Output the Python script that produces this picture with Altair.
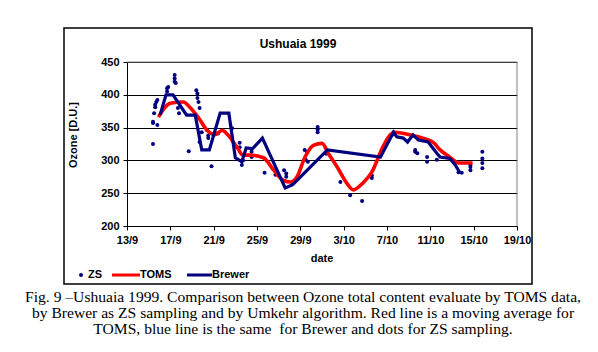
import altair as alt
import pandas as pd
from datetime import datetime, timedelta

# ---- data (days after 13 Sep 1999, ozone in D.U.) ----
zs_day = [2.4, 2.4, 2.4, 2.5, 2.6, 2.6, 2.7, 2.8, 2.8,
          3.7, 3.7, 3.8, 4.4, 4.4, 4.4, 4.5, 4.7, 4.8,
          5.7, 6.4, 6.5, 6.5, 6.6, 6.7, 6.7, 6.9,
          7.4, 7.5, 7.5, 7.8, 8.4, 9.7,
          10.4, 10.4, 10.6, 10.7, 11.5, 11.5, 12.7, 13.7,
          14.5, 14.7, 14.7, 15.3, 16.4, 16.5, 16.6, 16.7,
          17.6, 17.6, 17.6, 18.4, 19.7, 20.6, 21.7, 22.6, 22.6,
          24.6, 24.6, 26.6, 26.6, 26.8, 27.7, 27.7, 28.6,
          30.6, 30.9, 31.7, 31.7, 31.7, 32.8, 32.8, 32.8, 32.8]
zs_val = [325, 357, 359, 372, 381, 385, 389, 354, 392,
          405, 410, 412, 420, 425, 430, 418, 380, 372,
          314, 407, 402, 395, 389, 380, 328, 343,
          346, 334, 338, 291, 341, 349,
          320, 327, 293, 300, 313, 305, 281, 278,
          285, 275, 280, 266, 316, 301, 313, 298,
          351, 347, 343, 310, 267, 247, 238, 273, 277,
          343, 340, 313, 316, 311, 298, 305, 301,
          282, 281, 285, 290, 293, 288, 296, 303, 313]

toms_day = [2.9, 4.0, 5.2, 5.8, 6.6, 7.4, 8.1, 8.8, 9.3, 10.2, 10.7, 11.4,
            12.6, 13.5, 14.4, 15.1, 15.7, 16.4, 17.2, 18.0, 18.6, 19.4,
            20.3, 20.9, 21.8, 22.6, 23.6, 24.3, 24.7, 26.1, 27.3, 28.3,
            28.9, 29.8, 30.6, 31.9]
toms_val = [366, 387, 389, 381, 365, 346, 339, 346, 339, 319, 308, 308,
            304, 286, 270, 267, 275, 304, 323, 326, 310, 290,
            265, 255, 266, 282, 320, 339, 343, 339, 334, 327,
            316, 305, 296, 296]

brewer_day = [3.05, 3.6, 4.25, 5.5, 6.3, 6.9, 7.6, 8.6, 9.4, 10.0, 10.6,
              11.0, 11.6, 12.5, 14.6, 15.3, 18.5, 23.4, 24.6, 24.9, 25.5,
              25.9, 26.4, 26.9, 27.8, 28.6, 28.9, 29.8, 30.3, 30.7]
brewer_val = [369, 400, 400, 369, 369, 316, 316, 372, 372, 304, 298,
              319, 318, 334, 258, 263, 316, 305, 343, 336, 334,
              328, 339, 331, 328, 311, 305, 303, 293, 282]

y_ticks = [200, 250, 300, 350, 400, 450]
x_tick_days = [0, 4, 8, 12, 16, 20, 24, 28, 32, 36]

title_text = "Ushuaia 1999"
y_title = "Ozone [D.U.]"
x_title = "date"
caption = [
    "Fig. 9 \u2013Ushuaia 1999. Comparison between Ozone total content evaluate by TOMS data,",
    "by Brewer as ZS sampling and by Umkehr algorithm. Red line is a moving average for",
    "TOMS, blue line is the same\u00a0 for Brewer and dots for ZS sampling.",
]

BASE = datetime(1999, 9, 13)


def to_iso(d):
    return (BASE + timedelta(days=d)).strftime("%Y-%m-%dT%H:%M:%S")


def to_dt(d):
    t = BASE + timedelta(days=d)
    return alt.DateTime(year=t.year, month=t.month, date=t.day)


zs_df = pd.DataFrame({"date": [to_iso(d) for d in zs_day], "ozone": zs_val})
toms_df = pd.DataFrame({"date": [to_iso(d) for d in toms_day], "ozone": toms_val})
brewer_df = pd.DataFrame({"date": [to_iso(d) for d in brewer_day], "ozone": brewer_val})
dummy = pd.DataFrame({"k": [0]})

NAVY = "#000080"
RED = "#ff0000"
FONT = "Liberation Sans"

x_enc = alt.X(
    "date:T",
    scale=alt.Scale(domain=[to_dt(0), to_dt(36)]),
    axis=alt.Axis(values=[to_dt(d) for d in x_tick_days], format="%-d/%-m",
                  grid=False, title=None, labelAngle=0, tickSize=4,
                  labelPadding=4, labelFontSize=11, labelFontWeight="bold",
                  labelFont=FONT, labelColor="black", domainColor="black",
                  tickColor="black", labelFlush=False),
)
y_enc = alt.Y(
    "ozone:Q",
    scale=alt.Scale(domain=[200, 450], nice=False, zero=False),
    axis=alt.Axis(values=y_ticks, grid=True, gridColor="black", gridWidth=1,
                  gridOpacity=1, title=None, tickSize=4, labelPadding=4,
                  labelFontSize=11, labelFontWeight="bold", labelFont=FONT,
                  labelColor="black", domainColor="black", tickColor="black"),
)

frame = alt.Chart(dummy).mark_rule(color="#808080", strokeWidth=1).encode(
    x=alt.value(0), x2=alt.value(390), y=alt.value(0)
)
frame_r = alt.Chart(dummy).mark_rule(color="#808080", strokeWidth=1).encode(
    x=alt.value(390), y=alt.value(0), y2=alt.value(164)
)

points = alt.Chart(zs_df).mark_circle(size=16, color=NAVY, opacity=1).encode(x=x_enc, y=y_enc)
toms = alt.Chart(toms_df).mark_line(color=RED, strokeWidth=3.6, interpolate="monotone").encode(x=x_enc, y=y_enc)
brewer = alt.Chart(brewer_df).mark_line(color=NAVY, strokeWidth=3.2).encode(x=x_enc, y=y_enc)

# outer chart-area border (Excel style)
border = alt.Chart(dummy).mark_rect(fill=None, stroke="black", strokeWidth=1.5).encode(
    x=alt.value(-63), x2=alt.value(405), y=alt.value(-34), y2=alt.value(222)
)


def label(text, x, y, size=11, weight="bold", align="center", angle=0, font=FONT):
    kw = dict(text=text, fontSize=size, fontWeight=weight, font=font,
              align=align, baseline="middle", color="black")
    if angle:
        kw["angle"] = angle
    return alt.Chart(dummy).mark_text(**kw).encode(x=alt.value(x), y=alt.value(y))


title = label(title_text, 171, -18, size=12)
ytitle = label(y_title, -53, 73, angle=270)
xtitle = label(x_title, 195, 197)

leg_dot = alt.Chart(dummy).mark_circle(size=16, color=NAVY, opacity=1).encode(
    x=alt.value(-46), y=alt.value(213))
leg_zs = label("ZS", -39, 213, align="left")
leg_red = alt.Chart(dummy).mark_rule(color=RED, strokeWidth=3).encode(
    x=alt.value(-15), x2=alt.value(13), y=alt.value(213))
leg_toms = label("TOMS", 13, 213, align="left")
leg_blue = alt.Chart(dummy).mark_rule(color=NAVY, strokeWidth=3).encode(
    x=alt.value(60), x2=alt.value(85), y=alt.value(213))
leg_brewer = label("Brewer", 85, 213, align="left")

cap = alt.Chart(dummy).mark_text(
    text=caption, font="Liberation Serif", fontSize=15.6, fontWeight="normal",
    align="center", baseline="middle", lineHeight=16, color="black"
).encode(x=alt.value(176), y=alt.value(235))

chart = alt.layer(
    border, frame, frame_r, points, toms, brewer,
    title, ytitle, xtitle,
    leg_dot, leg_zs, leg_red, leg_toms, leg_blue, leg_brewer, cap,
).properties(
    width=390, height=164,
    autosize=alt.AutoSizeParams(type="none"),
    padding={"left": 127, "top": 62, "right": 81, "bottom": 126},
    background="white",
).configure_view(stroke=None)

chart.save("out.html", embed_options={"renderer": "svg", "actions": False})
